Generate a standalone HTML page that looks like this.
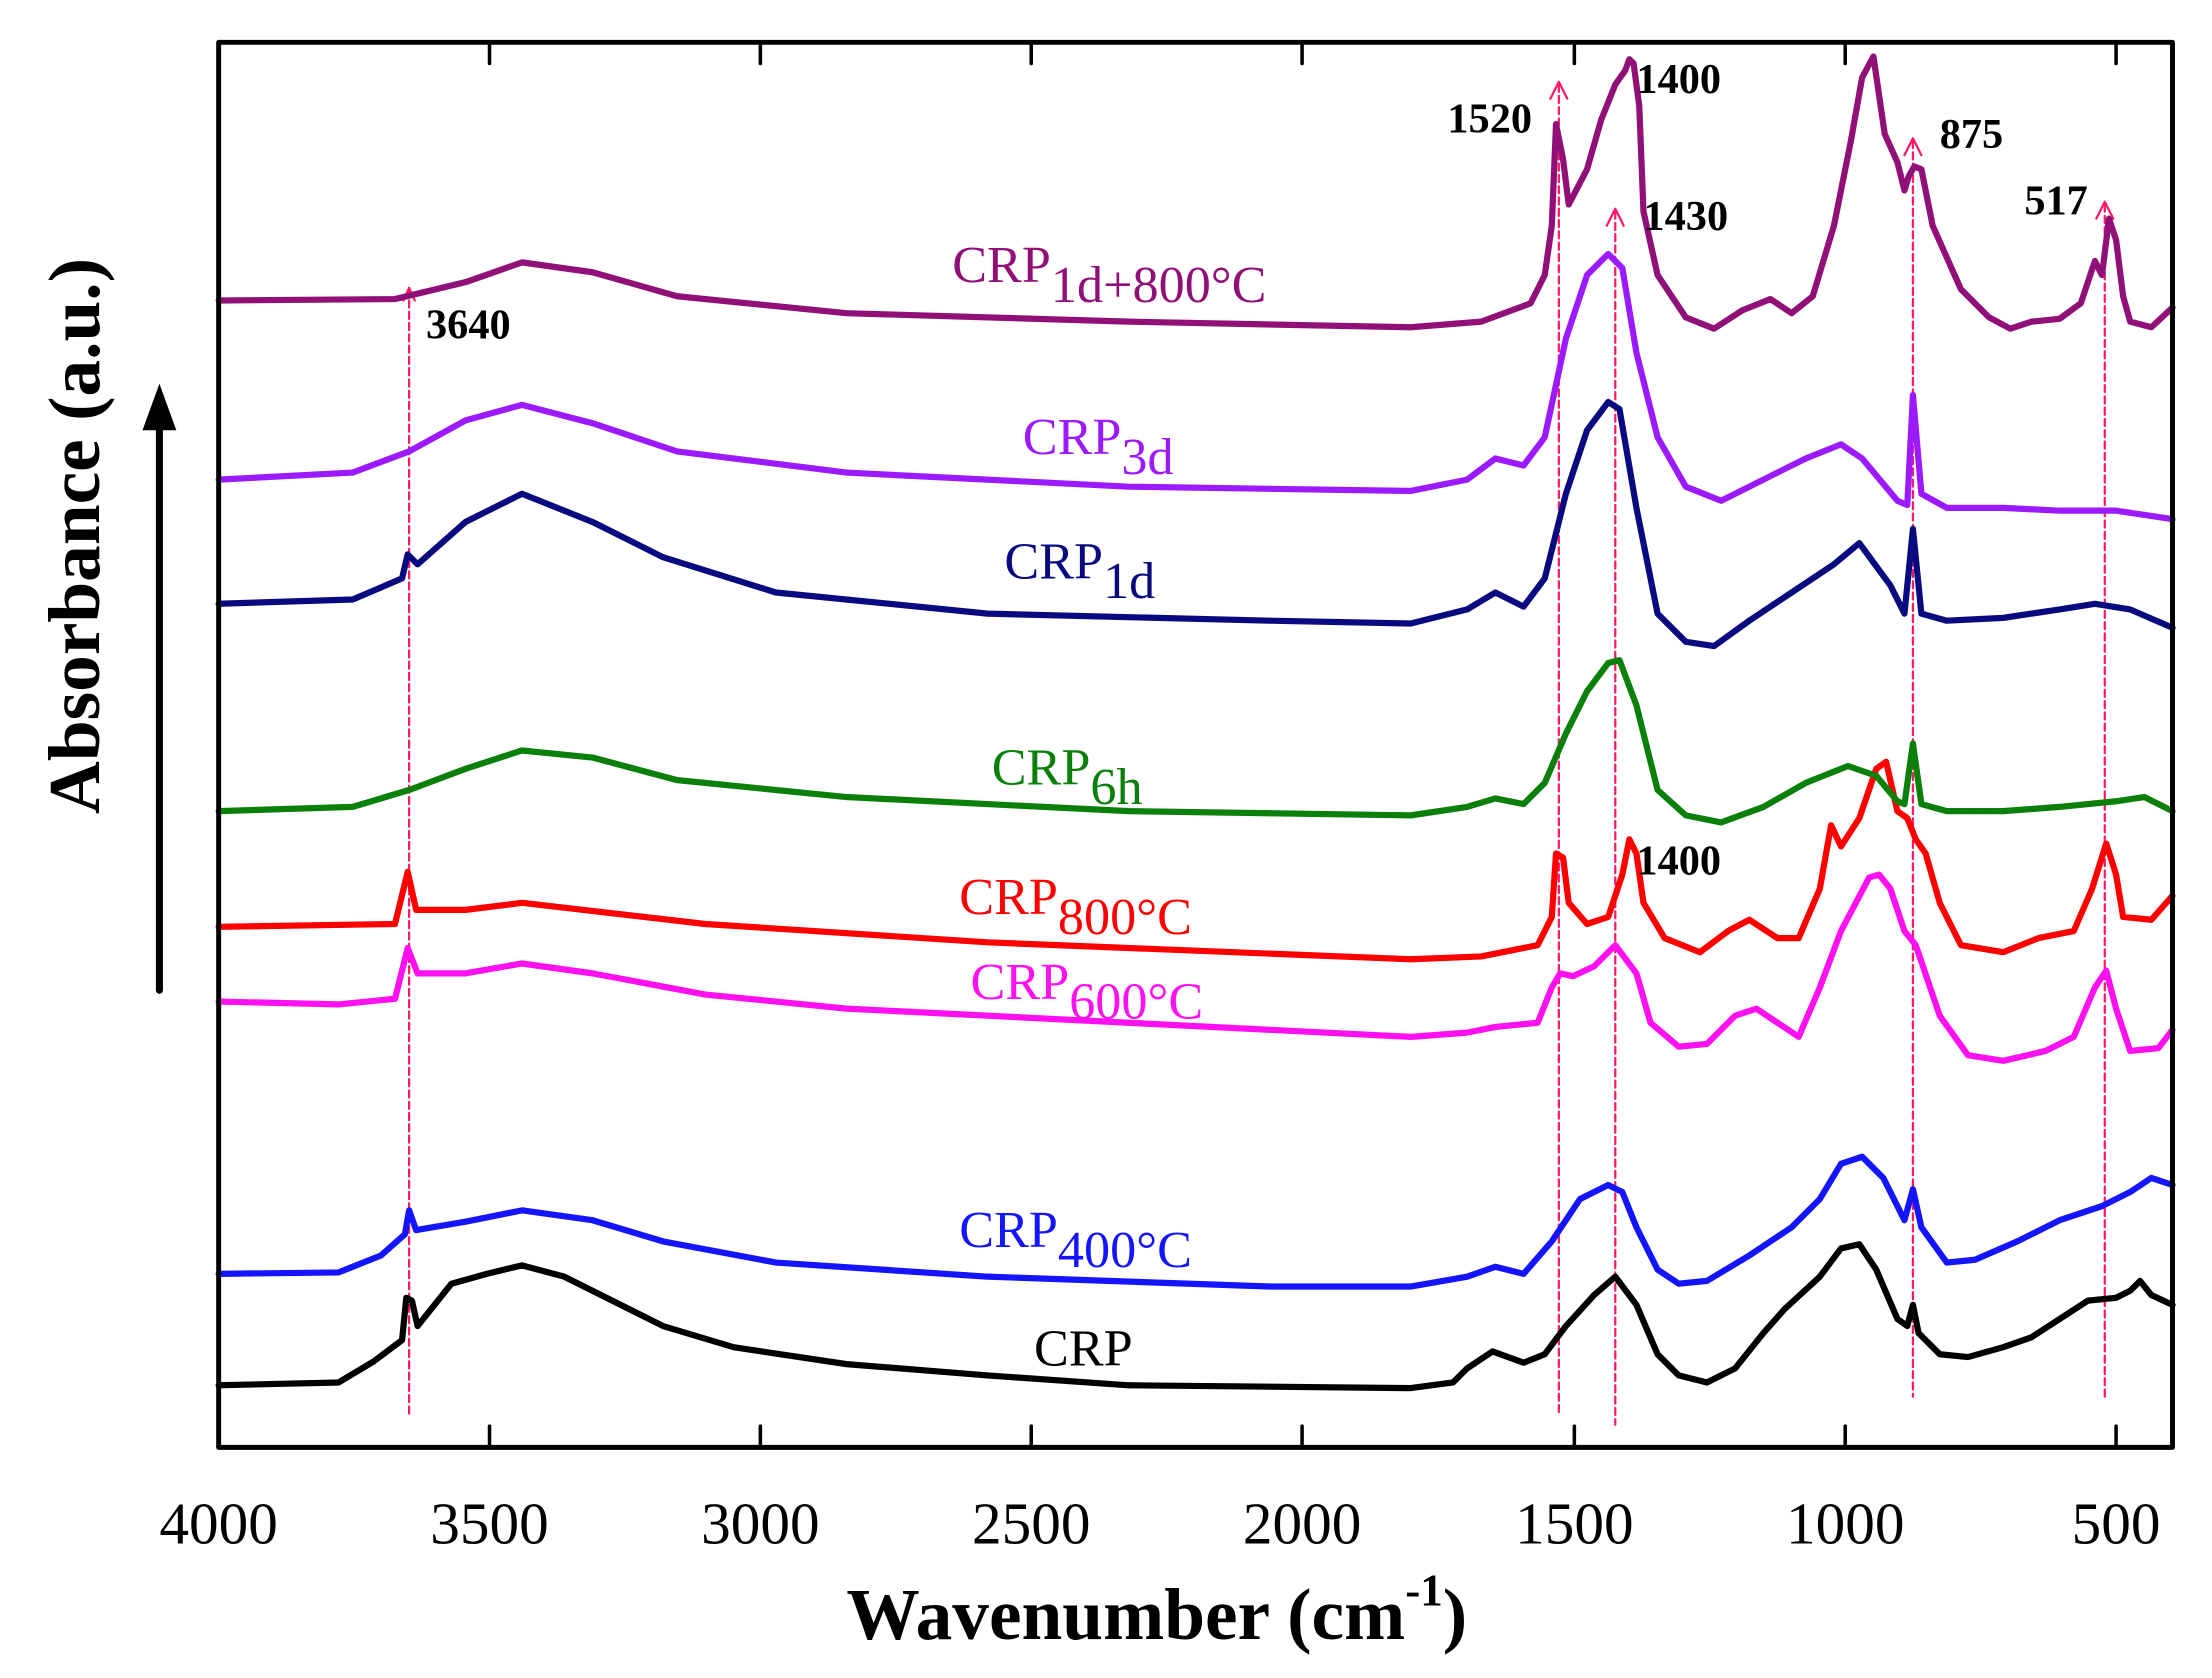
<!DOCTYPE html>
<html><head><meta charset="utf-8"><style>
html,body{margin:0;padding:0;background:#fff}
svg{display:block}
text{font-family:"Liberation Serif",serif}
</style></head><body>
<svg width="2212" height="1678" viewBox="0 0 1568 1189.5" preserveAspectRatio="none" xmlns="http://www.w3.org/2000/svg">
<g fill="none" stroke-width="4.4" stroke-linejoin="round" stroke-linecap="round">
<g stroke="#ff1a66" stroke-width="1.6" stroke-dasharray="5,3">
<line x1="290" y1="205" x2="290" y2="1003"/>
<line x1="1105" y1="60" x2="1105" y2="1003"/>
<line x1="1145" y1="150" x2="1145" y2="1010"/>
<line x1="1356" y1="100" x2="1356" y2="990"/>
<line x1="1492" y1="145" x2="1492" y2="990"/>
</g>
<g stroke="#ff1a66" stroke-width="1.6">
<polyline points="286,213 290,204 294,213"/>
<polyline points="1099,70 1105,58 1111,70"/>
<polyline points="1139,160 1145,148 1151,160"/>
<polyline points="1350,110 1356,98 1362,110"/>
<polyline points="1486,155 1492,143 1498,155"/>
</g>
<polyline stroke="#000" points="155,982 240,980 265,965 285,950 288,920 292,922 296,940 320,910 345,903 370,897 400,905 430,920 470,940 520,955 600,967 700,975 800,982 1000,984 1030,980 1040,970 1058,958 1080,966 1095,960 1110,940 1130,918 1145,905 1160,925 1175,960 1190,975 1210,980 1230,970 1250,945 1265,928 1290,905 1305,885 1318,882 1330,900 1345,935 1352,940 1356,925 1360,945 1375,960 1395,962 1420,955 1440,948 1460,935 1480,922 1500,920 1510,915 1517,908 1525,918 1540,925"/>
<polyline stroke="#1414ff" points="155,903 240,902 270,890 287,875 290,858 295,872 330,866 370,858 420,865 470,880 550,895 700,905 900,912 1000,912 1040,905 1060,898 1080,903 1100,880 1120,850 1140,840 1150,845 1160,870 1175,900 1190,910 1210,908 1240,890 1270,870 1290,850 1305,825 1320,820 1335,835 1350,865 1356,843 1362,870 1380,895 1400,893 1430,880 1460,865 1490,855 1510,845 1525,835 1540,840"/>
<polyline stroke="#ff10f0" points="155,710 240,712 280,708 289,672 296,690 330,690 370,683 420,690 500,705 600,715 800,725 1000,735 1040,732 1060,728 1090,725 1100,700 1106,690 1115,692 1130,685 1145,670 1160,690 1170,725 1190,742 1210,740 1230,720 1245,715 1260,725 1275,735 1290,700 1305,660 1325,622 1332,620 1340,630 1350,660 1358,670 1375,720 1395,748 1420,752 1450,745 1470,735 1485,700 1493,688 1500,715 1510,745 1530,743 1540,730"/>
<polyline stroke="#ff0000" points="155,657 280,655 289,618 295,645 330,645 370,640 500,655 700,668 1000,680 1050,678 1090,670 1100,650 1103,605 1108,608 1112,640 1125,655 1140,650 1150,620 1155,595 1160,605 1165,640 1180,665 1205,675 1225,660 1240,652 1260,665 1275,665 1290,630 1298,585 1305,600 1318,580 1330,545 1337,540 1345,575 1352,580 1358,595 1365,605 1375,640 1390,670 1420,675 1445,665 1470,660 1483,630 1493,598 1500,620 1505,650 1525,652 1540,635"/>
<polyline stroke="#0a800a" points="155,575 250,572 290,560 330,545 370,532 420,537 480,553 600,565 800,575 1000,578 1040,572 1060,566 1080,570 1095,555 1110,520 1125,490 1140,470 1148,468 1160,500 1175,560 1195,578 1220,583 1250,572 1280,555 1310,543 1330,550 1345,568 1350,570 1356,527 1362,570 1380,575 1420,575 1460,572 1500,568 1520,565 1540,575"/>
<polyline stroke="#0a0a80" points="155,428 250,425 285,410 289,393 296,400 330,370 370,350 420,370 470,395 550,420 700,435 900,440 1000,442 1040,432 1060,420 1080,430 1095,410 1110,350 1125,305 1140,285 1148,290 1160,360 1175,435 1195,455 1215,458 1240,440 1270,420 1300,400 1318,385 1340,415 1350,435 1356,375 1362,435 1380,440 1420,438 1460,432 1485,428 1510,432 1540,445"/>
<polyline stroke="#9b1aff" points="155,340 250,335 290,320 330,298 370,287 420,300 480,320 600,335 800,345 1000,348 1040,340 1060,325 1080,330 1095,310 1110,240 1125,195 1140,180 1150,190 1160,250 1175,310 1195,345 1220,355 1250,340 1280,325 1305,315 1320,325 1345,355 1352,358 1356,280 1362,350 1380,360 1420,360 1460,362 1500,362 1540,368"/>
<polyline stroke="#901078" points="155,213 280,212 330,200 370,186 420,193 480,210 600,222 800,228 1000,232 1050,228 1085,215 1095,195 1100,160 1103,88 1108,113 1112,145 1125,120 1135,85 1145,60 1152,50 1155,42 1158,45 1162,75 1165,150 1175,195 1195,225 1215,233 1235,220 1255,212 1270,222 1285,210 1300,160 1312,100 1320,55 1328,40 1336,95 1345,115 1350,135 1353,125 1357,118 1362,120 1370,160 1390,205 1410,225 1425,233 1440,228 1460,226 1475,215 1485,185 1490,195 1495,155 1500,170 1505,210 1510,228 1525,232 1540,218"/>
<rect x="155" y="30" width="1385" height="996" stroke="#000" stroke-width="3.5"/>
<g stroke="#000" stroke-width="2.5">
<line x1="347" y1="1026" x2="347" y2="1011"/><line x1="539" y1="1026" x2="539" y2="1011"/><line x1="731" y1="1026" x2="731" y2="1011"/><line x1="923" y1="1026" x2="923" y2="1011"/><line x1="1116" y1="1026" x2="1116" y2="1011"/><line x1="1308" y1="1026" x2="1308" y2="1011"/><line x1="1500" y1="1026" x2="1500" y2="1011"/>
<line x1="347" y1="30" x2="347" y2="45"/><line x1="539" y1="30" x2="539" y2="45"/><line x1="731" y1="30" x2="731" y2="45"/><line x1="923" y1="30" x2="923" y2="45"/><line x1="1116" y1="30" x2="1116" y2="45"/><line x1="1308" y1="30" x2="1308" y2="45"/><line x1="1500" y1="30" x2="1500" y2="45"/>
</g>
<line x1="113" y1="702" x2="113" y2="300" stroke="#000" stroke-width="5"/>
</g>
<polygon points="113,272 101,305 125,305" fill="#000"/>
<g font-size="42" text-anchor="middle" fill="#000">
<text x="155" y="1094">4000</text><text x="347" y="1094">3500</text><text x="539" y="1094">3000</text><text x="731" y="1094">2500</text><text x="923" y="1094">2000</text><text x="1116" y="1094">1500</text><text x="1308" y="1094">1000</text><text x="1500" y="1094">500</text>
</g>
<text x="820" y="1162" font-size="52" font-weight="bold" text-anchor="middle">Wavenumber (cm<tspan font-size="32" dy="-24">-1</tspan><tspan dy="24">)</tspan></text>
<text transform="translate(70,380) rotate(-90)" font-size="52" font-weight="bold" text-anchor="middle">Absorbance (a.u.)</text>
<g font-size="37">
<text x="675" y="200" fill="#901078">CRP<tspan dy="14">1d+800°C</tspan></text>
<text x="725" y="322" fill="#9b1aff">CRP<tspan dy="14">3d</tspan></text>
<text x="712" y="410" fill="#0a0a80">CRP<tspan dy="14">1d</tspan></text>
<text x="703" y="556" fill="#0a800a">CRP<tspan dy="14">6h</tspan></text>
<text x="680" y="648" fill="#ff0000">CRP<tspan dy="14">800°C</tspan></text>
<text x="688" y="708" fill="#ff10f0">CRP<tspan dy="14">600°C</tspan></text>
<text x="680" y="884" fill="#1414ff">CRP<tspan dy="14">400°C</tspan></text>
<text x="733" y="968" fill="#000">CRP</text>
</g>
<g font-size="30" font-weight="bold" fill="#000">
<text x="302" y="240">3640</text>
<text x="1026" y="94">1520</text>
<text x="1160" y="66">1400</text>
<text x="1165" y="163">1430</text>
<text x="1375" y="105">875</text>
<text x="1435" y="152">517</text>
<text x="1160" y="620">1400</text>
</g>
</svg>
</body></html>
